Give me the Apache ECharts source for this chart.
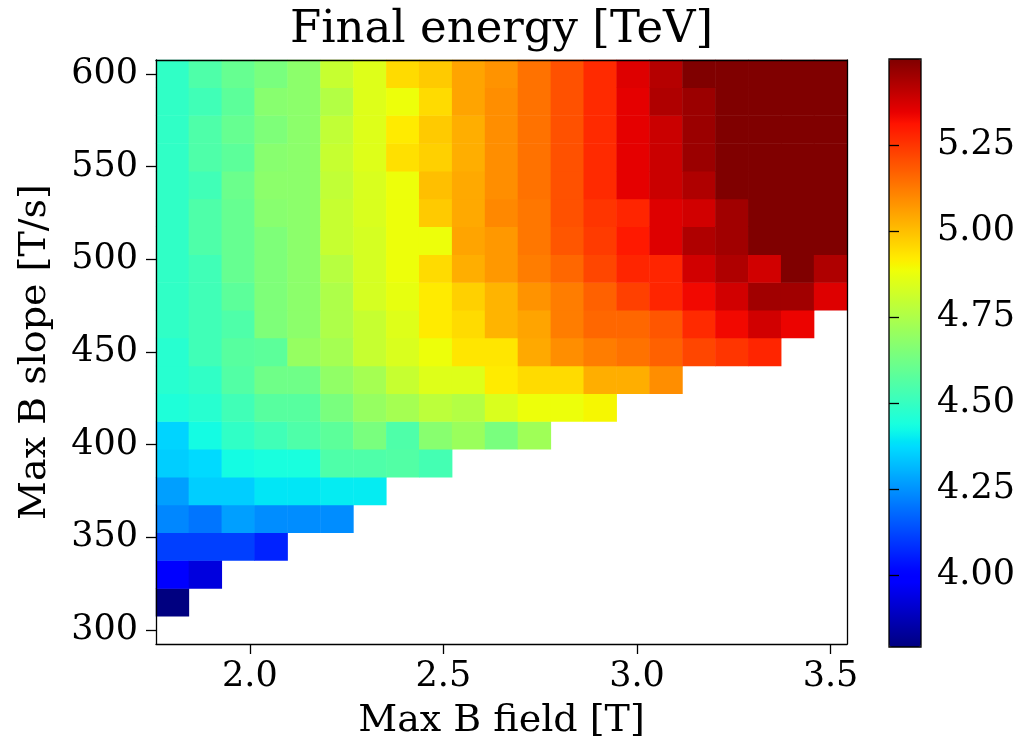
<!DOCTYPE html>
<html>
<head>
<meta charset="utf-8">
<script src="https://cdn.jsdelivr.net/npm/echarts@6/dist/echarts.min.js"></script>
<style>
  html, body { margin: 0; padding: 0; background: #fff; }
  #chart { width: 1025px; height: 745px; }
</style>
</head>
<body>
<div id="chart"></div>
<script>
// grid of the scan: Max B field [T] (columns) and Max B slope [T/s] (rows)
const fieldValues = [1.8, 1.885, 1.97, 2.055, 2.14, 2.225, 2.31, 2.395, 2.48, 2.565, 2.65,
  2.735, 2.82, 2.905, 2.99, 3.075, 3.16, 3.245, 3.33, 3.415, 3.5];
const slopeValues = [300, 315, 330, 345, 360, 375, 390, 405, 420, 435, 450,
  465, 480, 495, 510, 525, 540, 555, 570, 585, 600];

// final energy [TeV], one row per slope value (bottom to top), null = no result
const _ = null;
const energyRows = [
  [_, _, _, _, _, _, _, _, _, _, _, _, _, _, _, _, _, _, _, _, _],
  [3.79, _, _, _, _, _, _, _, _, _, _, _, _, _, _, _, _, _, _, _, _],
  [3.99, 3.93, _, _, _, _, _, _, _, _, _, _, _, _, _, _, _, _, _, _, _],
  [4.11, 4.11, 4.11, 4.06, _, _, _, _, _, _, _, _, _, _, _, _, _, _, _, _, _],
  [4.23, 4.20, 4.27, 4.24, 4.24, 4.24, _, _, _, _, _, _, _, _, _, _, _, _, _, _, _],
  [4.27, 4.35, 4.35, 4.39, 4.39, 4.40, 4.40, _, _, _, _, _, _, _, _, _, _, _, _, _, _],
  [4.35, 4.37, 4.43, 4.44, 4.44, 4.55, 4.55, 4.56, 4.53, _, _, _, _, _, _, _, _, _, _, _, _],
  [4.36, 4.43, 4.49, 4.52, 4.55, 4.58, 4.64, 4.55, 4.67, 4.71, 4.64, 4.72, _, _, _, _, _, _, _, _, _],
  [4.45, 4.47, 4.52, 4.57, 4.57, 4.64, 4.70, 4.73, 4.78, 4.76, 4.84, 4.88, 4.88, 4.90, _, _, _, _, _, _, _],
  [4.47, 4.49, 4.56, 4.62, 4.62, 4.69, 4.73, 4.80, 4.85, 4.85, 4.92, 4.95, 4.95, 5.03, 5.03, 5.09, _, _, _, _, _],
  [4.47, 4.52, 4.57, 4.58, 4.70, 4.73, 4.80, 4.84, 4.88, 4.93, 4.93, 5.04, 5.09, 5.12, 5.14, 5.17, 5.22, 5.25, 5.28, _, _],
  [4.49, 4.52, 4.55, 4.65, 4.68, 4.75, 4.80, 4.85, 4.92, 4.95, 5.02, 5.05, 5.12, 5.16, 5.16, 5.19, 5.27, 5.33, 5.38, 5.34, _],
  [4.49, 4.52, 4.58, 4.65, 4.68, 4.75, 4.83, 4.87, 4.92, 4.97, 5.02, 5.08, 5.12, 5.17, 5.23, 5.28, 5.33, 5.38, 5.45, 5.45, 5.36],
  [4.49, 4.52, 4.60, 4.65, 4.68, 4.77, 4.83, 4.88, 4.95, 5.03, 5.07, 5.12, 5.16, 5.22, 5.28, 5.28, 5.38, 5.43, 5.38, 5.50, 5.43],
  [4.49, 4.55, 4.60, 4.65, 4.68, 4.80, 4.83, 4.88, 4.88, 5.05, 5.07, 5.13, 5.19, 5.24, 5.30, 5.36, 5.43, 5.45, 5.50, 5.50, 5.50],
  [4.49, 4.55, 4.60, 4.67, 4.68, 4.80, 4.84, 4.88, 4.98, 5.04, 5.10, 5.13, 5.20, 5.25, 5.28, 5.36, 5.38, 5.45, 5.50, 5.50, 5.50],
  [4.49, 4.52, 4.61, 4.68, 4.68, 4.79, 4.84, 4.88, 5.00, 5.04, 5.09, 5.14, 5.20, 5.27, 5.35, 5.39, 5.43, 5.50, 5.50, 5.50, 5.50],
  [4.49, 4.55, 4.58, 4.67, 4.68, 4.80, 4.85, 4.94, 4.97, 5.03, 5.09, 5.14, 5.20, 5.27, 5.35, 5.39, 5.46, 5.50, 5.50, 5.50, 5.50],
  [4.49, 4.55, 4.60, 4.65, 4.68, 4.79, 4.85, 4.92, 4.98, 5.03, 5.09, 5.14, 5.20, 5.27, 5.35, 5.39, 5.46, 5.50, 5.50, 5.50, 5.50],
  [4.49, 4.52, 4.58, 4.67, 4.68, 4.76, 4.85, 4.88, 4.95, 5.05, 5.09, 5.14, 5.20, 5.27, 5.35, 5.43, 5.46, 5.50, 5.50, 5.50, 5.50],
  [4.49, 4.55, 4.60, 4.64, 4.68, 4.80, 4.85, 4.95, 4.98, 5.05, 5.08, 5.14, 5.20, 5.27, 5.36, 5.42, 5.50, 5.50, 5.50, 5.50, 5.50]
];

const fieldTicks = [2.0, 2.5, 3.0, 3.5];
const slopeTicks = [300, 350, 400, 450, 500, 550, 600];
const energyTicks = [4.00, 4.25, 4.50, 4.75, 5.00, 5.25];
const energyMin = 3.79;
const energyMax = 5.50;

// matplotlib "jet" colormap
function jet(t) {
  const seg = (pts) => {
    for (let i = 1; i < pts.length; i++) {
      if (t <= pts[i][0]) {
        const f = (t - pts[i - 1][0]) / (pts[i][0] - pts[i - 1][0]);
        return pts[i - 1][1] + f * (pts[i][1] - pts[i - 1][1]);
      }
    }
    return pts[pts.length - 1][1];
  };
  const r = seg([[0, 0], [0.35, 0], [0.66, 1], [0.89, 1], [1, 0.5]]);
  const g = seg([[0, 0], [0.125, 0], [0.375, 1], [0.64, 1], [0.91, 0], [1, 0]]);
  const b = seg([[0, 0.5], [0.11, 1], [0.34, 1], [0.65, 0], [1, 0]]);
  return 'rgb(' + Math.round(r * 255) + ',' + Math.round(g * 255) + ',' + Math.round(b * 255) + ')';
}
const jetColors = [];
for (let i = 0; i <= 100; i++) jetColors.push(jet(i / 100));

const heatData = [];
energyRows.forEach((row, yi) => {
  row.forEach((v, xi) => {
    if (v !== null) heatData.push([xi, yi, v]);
  });
});

// cell edges: half a step outside the first and last grid values
const fieldStep = fieldValues[1] - fieldValues[0];
const slopeStep = slopeValues[1] - slopeValues[0];
const fieldMin = fieldValues[0] - fieldStep / 2;
const fieldMax = fieldValues[fieldValues.length - 1] + fieldStep / 2;
const slopeMin = slopeValues[0] - slopeStep / 2;
const slopeMax = slopeValues[slopeValues.length - 1] + slopeStep / 2;

const FONT = 'DejaVu Serif';
const black = { color: '#000', width: 1.3 };
const labelStyle = { fontFamily: FONT, fontSize: 35, color: '#000' };

const chart = echarts.init(document.getElementById('chart'), null, { renderer: 'canvas' });
chart.setOption({
  animation: false,
  backgroundColor: '#fff',
  title: {
    text: 'Final energy [TeV]',
    left: 501.5,
    top: 8,
    padding: 0,
    textAlign: 'center',
    textStyle: { fontFamily: FONT, fontSize: 45, fontWeight: 'normal', color: '#000' }
  },
  grid: [
    { left: 156, top: 60, width: 691, height: 586, show: false },
    { left: 889, top: 59, width: 32, height: 588, show: true, z: 5,
      borderColor: '#000', borderWidth: 1.3, backgroundColor: 'transparent' }
  ],
  xAxis: [
    { type: 'category', gridIndex: 0, data: fieldValues, position: 'top', z: 10,
      axisLine: { show: true, onZero: false, lineStyle: black },
      axisTick: { show: false }, axisLabel: { show: false }, splitLine: { show: false } },
    { type: 'value', gridIndex: 0, position: 'bottom', min: fieldMin, max: fieldMax, z: 10,
      axisLine: { show: true, onZero: false, lineStyle: black },
      axisTick: { show: true, length: 10, customValues: fieldTicks, lineStyle: black },
      axisLabel: Object.assign({ customValues: fieldTicks, margin: 15,
        formatter: (v) => v.toFixed(1) }, labelStyle),
      splitLine: { show: false },
      name: 'Max B field [T]', nameLocation: 'middle', nameGap: 58,
      nameTextStyle: { fontFamily: FONT, fontSize: 38, color: '#000', verticalAlign: 'top' } },
    { type: 'value', gridIndex: 1, show: false, min: 0, max: 1 }
  ],
  yAxis: [
    { type: 'category', gridIndex: 0, data: slopeValues, position: 'right', z: 10,
      axisLine: { show: true, onZero: false, lineStyle: black },
      axisTick: { show: false }, axisLabel: { show: false }, splitLine: { show: false } },
    { type: 'value', gridIndex: 0, position: 'left', min: slopeMin, max: slopeMax, z: 10,
      axisLine: { show: true, onZero: false, lineStyle: black },
      axisTick: { show: true, length: 10, customValues: slopeTicks, lineStyle: black },
      axisLabel: Object.assign({ customValues: slopeTicks, margin: 18 }, labelStyle),
      splitLine: { show: false },
      name: 'Max B slope [T/s]', nameLocation: 'middle', nameGap: 102, nameRotate: 90,
      nameTextStyle: { fontFamily: FONT, fontSize: 38, color: '#000' } },
    { type: 'value', gridIndex: 1, position: 'right', min: energyMin, max: energyMax, z: 10,
      axisLine: { show: false },
      axisTick: { show: true, length: 10, customValues: energyTicks, lineStyle: black },
      axisLabel: Object.assign({ customValues: energyTicks, margin: 16,
        formatter: (v) => v.toFixed(2) }, labelStyle),
      splitLine: { show: false } }
  ],
  visualMap: {
    type: 'continuous',
    seriesIndex: 0,
    dimension: 2,
    min: energyMin,
    max: energyMax,
    calculable: false,
    hoverLink: false,
    orient: 'vertical',
    left: 889,
    top: 59,
    itemWidth: 32,
    itemHeight: 588,
    padding: 0,
    z: 1,
    inRange: { color: jetColors }
  },
  series: [{
    type: 'heatmap',
    xAxisIndex: 0,
    yAxisIndex: 0,
    data: heatData,
    progressive: 0,
    itemStyle: { borderWidth: 0 },
    emphasis: { disabled: true }
  }]
});
</script>
</body>
</html>
